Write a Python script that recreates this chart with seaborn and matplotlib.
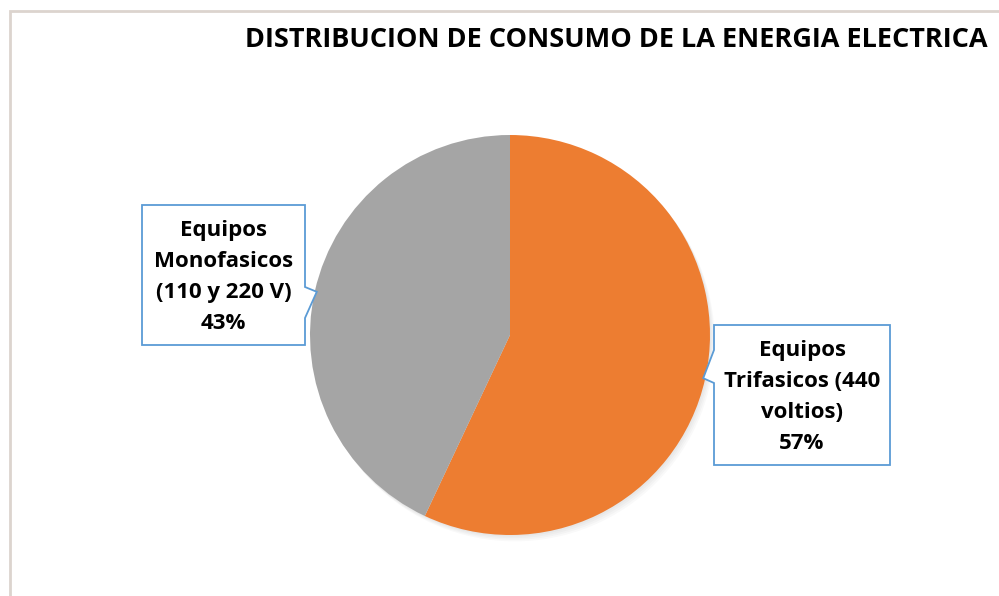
import numpy as np
import matplotlib.pyplot as plt
import matplotlib.patches as mpatches
import seaborn as sns

sns.set_theme(style="white")
plt.rcParams['font.family'] = ['Open Sans', 'DejaVu Sans']

# Datos del grafico
categorias = ["Equipos\nTrifasicos (440\nvoltios)", "Equipos\nMonofasicos\n(110 y 220 V)"]
valores = [57, 43]
colores = ["#ED7D31", "#A5A5A5"]
titulo = "DISTRIBUCION DE CONSUMO DE LA ENERGIA ELECTRICA"

# cajas de etiqueta (x0, x1, y0, y1) en unidades del radio, y lado del piquito
cajas = [(1.02, 1.90, -0.65, 0.05, "left"), (-1.84, -1.025, -0.05, 0.65, "right")]

fig = plt.figure(figsize=(9.99, 5.96), dpi=100)
ax = fig.add_axes([0, 0, 1, 1])

# sombra suave
for k in range(4):
    ax.add_patch(mpatches.Circle((0.006 * (k + 1), -0.008 * (k + 1)), 1.0,
                                 color="black", alpha=0.025, lw=0, zorder=0))

wedges, _ = ax.pie(valores, colors=colores, startangle=90, counterclock=False,
                   radius=1.0, center=(0, 0), frame=True,
                   wedgeprops=dict(linewidth=0))
ax.set_xlim(-2.55, 2.445)
ax.set_ylim(-1.305, 1.675)
ax.set_aspect("auto")
ax.axis("off")

for w, cat, val, (x0, x1, y0, y1, lado) in zip(wedges, categorias, valores, cajas):
    mid = np.deg2rad((w.theta1 + w.theta2) / 2)
    tip = (0.99 * np.cos(mid), 0.99 * np.sin(mid))
    if lado == "left":
        n_top, n_bot = y1 - 0.125, y1 - 0.29
        pts = [(x0, y1), (x1, y1), (x1, y0), (x0, y0), (x0, n_bot), tip, (x0, n_top)]
    else:
        n_top, n_bot = y1 - 0.41, y1 - 0.565
        pts = [(x0, y1), (x1, y1), (x1, n_top), tip, (x1, n_bot), (x1, y0), (x0, y0)]
    ax.add_patch(mpatches.Polygon(pts, closed=True, facecolor="white",
                                  edgecolor="#5B9BD5", linewidth=1.3, zorder=5))
    ax.text((x0 + x1) / 2, (y0 + y1) / 2 - 0.01, f"{cat}\n{val}%", ha="center", va="center",
            fontsize=16, fontweight="bold", color="black", linespacing=1.62, zorder=6)

fig.text(616 / 999, 1 - 40 / 596, titulo, ha="center", va="center",
         fontsize=19.5, fontweight="bold", color="black")

# borde del area del grafico
fig.add_artist(mpatches.Rectangle((10 / 999, -0.1), 1.2, 1 - 11 / 596 + 0.1,
                                  transform=fig.transFigure, fill=False,
                                  edgecolor="#DCD4CE", linewidth=2))

fig.savefig("out.png", dpi=100)
